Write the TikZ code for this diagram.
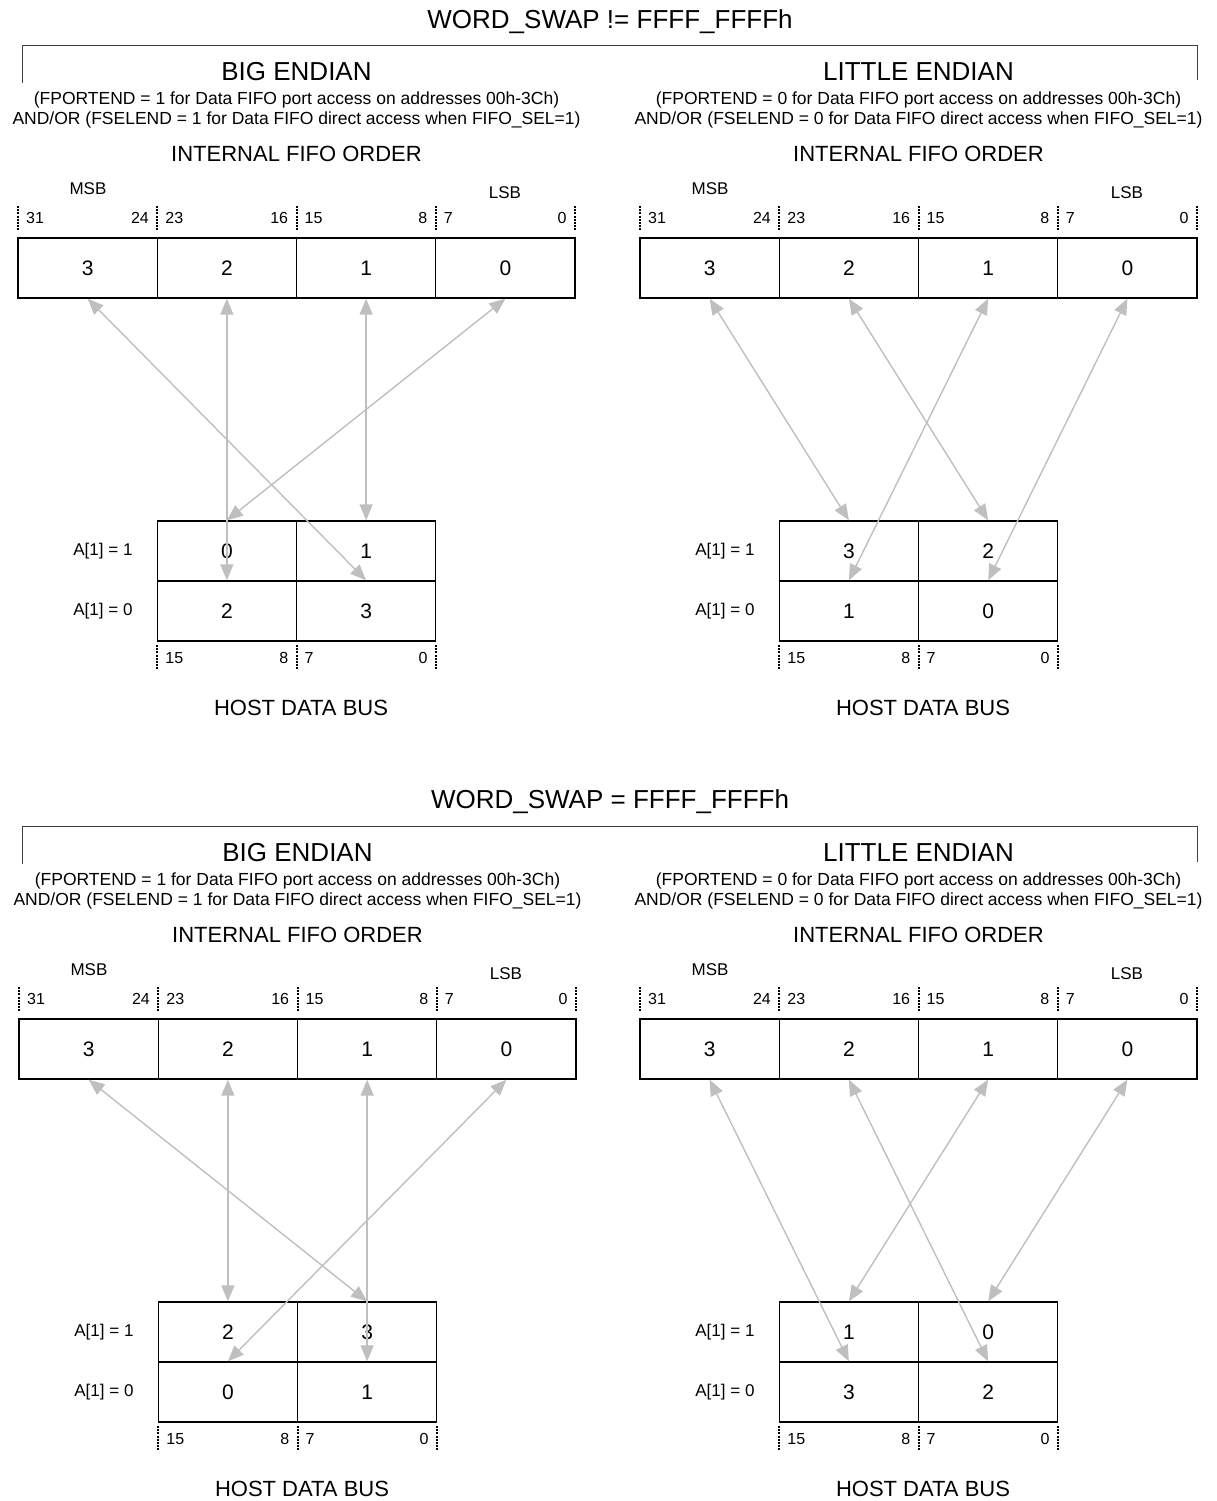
\documentclass[tikz,border=0pt]{standalone}
\usepackage{fontspec}
\setmainfont{Liberation Sans}
\usetikzlibrary{arrows.meta}

\tikzset{
  titletext/.style={font=\fontsize{26}{30}\selectfont},
  endiantext/.style={font=\fontsize{26}{30}\selectfont},
  notetext/.style={font=\fontsize{17.5}{21}\selectfont},
  headtext/.style={font=\fontsize{22}{26}\selectfont},
  sbtext/.style={font=\fontsize{17}{20}\selectfont},
  rowtext/.style={font=\fontsize{17}{20}\selectfont},
  bitnum/.style={inner sep=0pt, font=\fontsize{16}{19}\selectfont},
  cell/.style={draw, line width=1.3pt, minimum width=139.25pt, minimum height=60pt,
    inner sep=0pt, font=\fontsize{21}{25}\selectfont},
  bitmark/.style={line width=2pt, dash pattern=on 2pt off 1.2pt},
  swaparrow/.style={draw=black!25, line width=1.4pt,
    {Triangle[length=16pt,width=13pt]}-{Triangle[length=16pt,width=13pt]}},
  bracket/.style={draw=black!75, line width=0.8pt}
}

% one endian panel: prefix, x, y, endian, bit, host cells (upper left, upper right, lower left, lower right)
\newcommand{\fifopanel}[9]{%
\begin{scope}[shift={(#2,#3)}]
  % headings
  \node[endiantext] (#1end) at (278.5,-166) {#4 ENDIAN};
  \node[notetext] (#1pa) at (278.5,-138) {(FPORTEND = #5 for Data FIFO port access on addresses 00h-3Ch)};
  \node[notetext] (#1pb) at (278.5,-118) {AND/OR (FSELEND = #5 for Data FIFO direct access when FIFO\_SEL=1)};
  \node[headtext] (#1ord) at (278.5,-84) {INTERNAL FIFO ORDER};
  \node[sbtext] (#1msb) at (70,-49) {MSB};
  \node[sbtext] (#1lsb) at (487,-45) {LSB};

  % internal fifo word
  \foreach \k/\i in {3/0,2/1,1/2,0/3}
    \node[cell] (#1f\k) at (\i*139.25+69.625,30) {\k};
  \foreach \x in {0,139.25,278.5,417.75,557}
    \draw[bitmark] (\x,-32) -- (\x,-8);
  \foreach \hi/\lo [count=\i from 0] in {31/24,23/16,15/8,7/0} {
    \node[bitnum, anchor=west] (#1t\hi) at (\i*139.25+8,-20) {\hi};
    \node[bitnum, anchor=east] (#1t\lo) at (\i*139.25+131,-20) {\lo};
  }

  % host data bus
  \node[cell] (#1h#6) at (208.875,313) {#6};
  \node[cell] (#1h#7) at (348.125,313) {#7};
  \node[cell] (#1h#8) at (208.875,373) {#8};
  \node[cell] (#1h#9) at (348.125,373) {#9};
  \node[rowtext, anchor=east] (#1ra) at (118,313) {A[1] = 1};
  \node[rowtext, anchor=east] (#1rb) at (118,373) {A[1] = 0};
  \foreach \x in {139.25,278.5,417.75}
    \draw[bitmark] (\x,407) -- (\x,432);
  \node[bitnum, anchor=west] (#1u15) at (147.25,420) {15};
  \node[bitnum, anchor=east] (#1u8) at (270.5,420) {8};
  \node[bitnum, anchor=west] (#1u7) at (286.5,420) {7};
  \node[bitnum, anchor=east] (#1u0) at (409.75,420) {0};
  \node[headtext] (#1bus) at (283,470) {HOST DATA BUS};

  % byte lanes
  \foreach \k in {0,...,3}
    \draw[swaparrow] (#1f\k.south) -- (#1h\k.north);
\end{scope}}

\begin{document}
\begin{tikzpicture}[x=1pt, y=-1pt]
  \useasboundingbox (0,0) rectangle (1216,1501);

  % no word swap
  \node[titletext] (tnoswap) at (610,22) {WORD\_SWAP != FFFF\_FFFFh};
  \draw[bracket] (22,83) |- (1197,45) -- (1197,80);
  \fifopanel{a}{18}{238}{BIG}{1}{0}{1}{2}{3}
  \fifopanel{b}{640}{238}{LITTLE}{0}{3}{2}{1}{0}

  % word swap
  \node[titletext] (tswap) at (610,802) {WORD\_SWAP = FFFF\_FFFFh};
  \draw[bracket] (22,864) |- (1197,826) -- (1197,862);
  \fifopanel{c}{19}{1019}{BIG}{1}{2}{3}{0}{1}
  \fifopanel{d}{640}{1019}{LITTLE}{0}{1}{0}{3}{2}
\end{tikzpicture}
\end{document}
